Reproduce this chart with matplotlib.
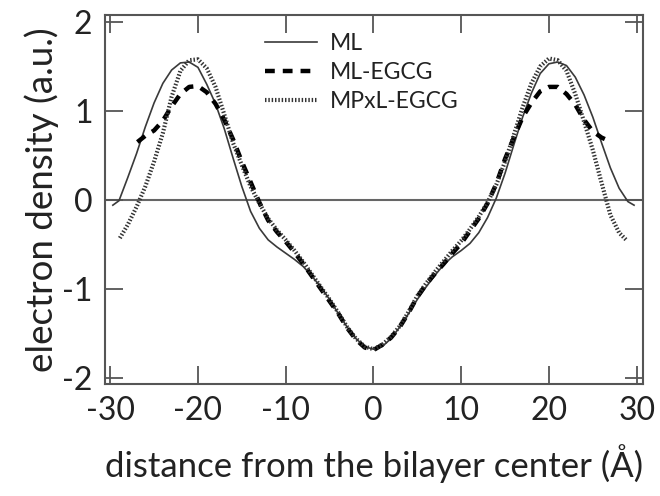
import numpy as np
import matplotlib.pyplot as plt

# ML (solid)
x_ml = [-29.7, -29, -28, -27, -26, -25, -24, -23, -22, -21, -20, -19, -18, -17, -16, -15,
        -14, -13, -12, -11, -10, -9, -8, -7, -6, -5, -4, -3, -2, -1, 0,
        1, 2, 3, 4, 5, 6, 7, 8, 9, 10, 11, 12, 13, 14, 15, 16, 17, 18, 19, 20,
        21, 22, 23, 24, 25, 26, 27, 28, 29, 29.7]
y_ml = [-0.06, -0.01, 0.25, 0.52, 0.82, 1.09, 1.31, 1.46, 1.54, 1.55, 1.49, 1.30, 1.08, 0.80, 0.47, 0.15,
        -0.13, -0.32, -0.45, -0.53, -0.60, -0.67, -0.75, -0.86, -0.98, -1.12, -1.28, -1.43, -1.56, -1.65, -1.68,
        -1.65, -1.56, -1.43, -1.28, -1.12, -0.98, -0.85, -0.73, -0.64, -0.57, -0.49, -0.37, -0.20, 0.02, 0.30, 0.62, 0.93, 1.20, 1.42, 1.53,
        1.55, 1.51, 1.38, 1.18, 0.93, 0.64, 0.36, 0.13, -0.02, -0.06]

# ML-EGCG (dashed)
x_egcg = [-26.9, -26, -25, -24, -23, -22, -21, -20, -19, -18, -17, -16, -15, -14, -13,
          -12, -11, -10, -9, -8, -7, -6, -5, -4, -3, -2, -1, 0,
          1, 2, 3, 4, 5, 6, 7, 8, 9, 10, 11, 12, 13, 14, 15, 16, 17, 18, 19, 20,
          21, 22, 23, 24, 25, 26, 26.9]
y_egcg = [0.65, 0.72, 0.78, 0.89, 1.05, 1.19, 1.27, 1.28, 1.21, 1.08, 0.90, 0.68, 0.43, 0.20, -0.03,
          -0.23, -0.36, -0.47, -0.59, -0.72, -0.86, -1.00, -1.14, -1.28, -1.44, -1.57, -1.66, -1.69,
          -1.63, -1.55, -1.43, -1.27, -1.09, -0.95, -0.83, -0.72, -0.60, -0.49, -0.35, -0.21, -0.04, 0.18, 0.46, 0.70, 0.93, 1.09, 1.22, 1.27,
          1.27, 1.19, 1.07, 0.90, 0.77, 0.70, 0.66]

# MPxL-EGCG (dotted)
x_mpxl = [-28.9, -28, -27, -26, -25, -24, -23, -22, -21, -20, -19, -18, -17, -16, -15, -14, -13,
          -12, -11, -10, -9, -8, -7, -6, -5, -4, -3, -2, -1, 0,
          1, 2, 3, 4, 5, 6, 7, 8, 9, 10, 11, 12, 13, 14, 15, 16, 17, 18, 19, 20,
          21, 22, 23, 24, 25, 26, 27, 28, 28.8]
y_mpxl = [-0.43, -0.28, -0.08, 0.15, 0.43, 0.75, 1.16, 1.45, 1.57, 1.58, 1.48, 1.27, 0.96, 0.64, 0.39, 0.15, -0.04,
          -0.21, -0.34, -0.45, -0.57, -0.70, -0.84, -0.98, -1.12, -1.27, -1.43, -1.56, -1.65, -1.68,
          -1.63, -1.54, -1.42, -1.26, -1.08, -0.94, -0.81, -0.69, -0.57, -0.46, -0.33, -0.19, -0.03, 0.17, 0.43, 0.73, 1.04, 1.31, 1.50, 1.59,
          1.57, 1.45, 1.19, 0.88, 0.56, 0.19, -0.17, -0.37, -0.45]

plt.rcParams['font.family'] = ['Lato', 'DejaVu Sans']
plt.rcParams['axes.unicode_minus'] = False

fig = plt.figure(figsize=(6.6, 4.96), dpi=100)
ax = fig.add_axes([0.159, 0.226, 0.815, 0.744])

ax.axhline(0, color='#666666', lw=1.5, zorder=1)
ax.plot(x_ml, y_ml, color='#3a3a3a', lw=1.2, label='ML')
ax.plot(x_egcg, y_egcg, color='black', lw=3.2, dashes=(2.2, 1.8), label='ML-EGCG')
ax.plot(x_mpxl, y_mpxl, color='#333333', lw=3.0, dashes=(0.35, 0.45), label='MPxL-EGCG')

ax.set_xlim(-30.6, 30.7)
ax.set_ylim(-2.07, 2.08)
ax.set_xticks([-30, -20, -10, 0, 10, 20, 30])
ax.set_yticks([-2, -1, 0, 1, 2])
ax.tick_params(direction='in', top=True, right=True, length=13, width=1.3,
               color='#555555', labelsize=23, labelcolor='#222222', pad=9)
for s in ax.spines.values():
    s.set_color('#555555')
    s.set_linewidth(1.5)

ax.set_xlabel('distance from the bilayer center (Å)', fontsize=25, color='#222222', labelpad=13)
ax.set_ylabel('electron density (a.u.)', fontsize=26.5, color='#222222', labelpad=2)

ax.legend(loc='upper left', bbox_to_anchor=(0.281, 0.975), borderaxespad=0, frameon=False, fontsize=16.5,
          handlelength=2.26, handletextpad=0.57, labelspacing=0.35, labelcolor='#222222')

fig.savefig('out.png', dpi=100)
